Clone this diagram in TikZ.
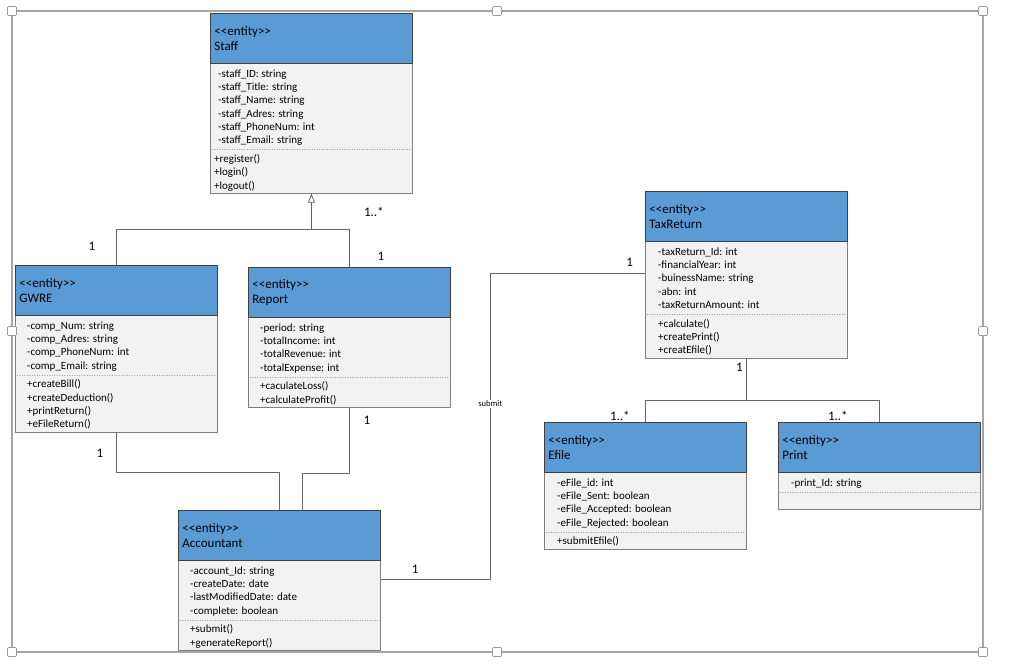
\documentclass[tikz,border=0pt]{standalone}
\usepackage{fontspec}
\setmainfont{Carlito}
\usepackage{xcolor}
\usepackage{tikz}
\usetikzlibrary{arrows.meta,calc,fit,backgrounds}
\definecolor{headblue}{HTML}{5B9BD5}
\definecolor{bodygray}{HTML}{F2F2F2}
\definecolor{linegray}{HTML}{666666}
\definecolor{framegray}{HTML}{A6A6A6}
\tikzset{
  >=Stealth,
  every picture/.style={line cap=round,line join=round},
  headbox/.style={draw=black!75, fill=headblue, line width=0.8pt, minimum height=50pt,
    text width=194pt, inner xsep=4pt, inner ysep=0pt, align=left, anchor=north west,
    font=\fontsize{13}{15.5}\selectfont},
  bodybox/.style={draw=black!50, fill=bodygray, line width=0.8pt, inner sep=0pt},
  membertext/.style={inner sep=0pt, align=left, anchor=north west, font=\fontsize{11}{13.3}\selectfont},
  sepline/.style={draw=black!45, dotted, line width=0.5pt},
  conn/.style={draw=linegray, line width=0.8pt},
  mult/.style={inner sep=0pt, font=\fontsize{13}{15}\selectfont},
  sublbl/.style={fill=white, inner sep=1pt, font=\fontsize{8.5}{10}\selectfont},
  handle/.style={draw=black!40, fill=white, line width=0.6pt, minimum size=9pt, inner sep=0pt, rounded corners=1pt},
}
% entity box: [attr indent][method indent]{name}{x}{y}{title}{attributes}{methods}
\NewDocumentCommand{\entitybox}{O{12} O{12} m m m m m m}{%
  \node[headbox] (#3h) at (#4,#5) {<\kern0pt<entity>\kern0pt>\\#6};
  \node[membertext] (#3a) at ($(#3h.south west)+(#1,4)$) {\strut#7\strut};
  \node[membertext] (#3m) at ($(#3a.south -| #3h.west)+(#2,5)$) {\strut#8\strut};
  \begin{scope}[on background layer]
    \node[bodybox, fit=(#3h.south west)(#3h.south east)(#3m.south)] (#3) {};
  \end{scope}
  \draw[sepline] ($(#3a.south -| #3h.west)+(2,1.5)$) -- ($(#3a.south -| #3h.east)+(-2,1.5)$);
}

\begin{document}
\begin{tikzpicture}[x=1pt, y=-1pt]
  \useasboundingbox (0,0) rectangle (1024,670);
  % selection frame
  \draw[framegray, line width=1.3pt] (12,11) rectangle (983,652);

  % classes
  \entitybox[8][4]{staff}{210}{13}{Staff}
    {-staff\_ID: string\\-staff\_Title: string\\-staff\_Name: string\\-staff\_Adres: string\\-staff\_PhoneNum: int\\-staff\_Email: string}
    {+register()\\+login()\\+logout()}
  \entitybox{gwre}{15}{265}{GWRE}
    {-comp\_Num: string\\-comp\_Adres: string\\-comp\_PhoneNum: int\\-comp\_Email: string}
    {+createBill()\\+createDeduction()\\+printReturn()\\+eFileReturn()}
  \entitybox{report}{248}{267}{Report}
    {-period: string\\-totalIncome: int\\-totalRevenue: int\\-totalExpense: int}
    {+caculateLoss()\\+calculateProfit()}
  \entitybox{acct}{178}{510}{Accountant}
    {-account\_Id: string\\-createDate: date\\-lastModifiedDate: date\\-complete: boolean}
    {+submit()\\+generateReport()}
  \entitybox[13][13]{tax}{645}{191}{TaxReturn}
    {-taxReturn\_Id: int\\-financialYear: int\\-buinessName: string\\-abn: int\\-taxReturnAmount: int}
    {+calculate()\\+createPrint()\\+creatEfile()}
  \entitybox[13][13]{efile}{544}{422}{Efile}
    {-eFile\_id: int\\-eFile\_Sent: boolean\\-eFile\_Accepted: boolean\\-eFile\_Rejected: boolean}
    {+submitEfile()}
  \entitybox[13][13]{print}{778}{422}{Print}
    {-print\_Id: string}
    {}

  % generalisation to Staff
  \coordinate (gen) at ($(staff.south)+(0,36)$);
  \draw[conn] (gwreh.north) |- (gen);
  \draw[conn] (reporth.north) |- (gen);
  \draw[conn, -{Triangle[open, length=9pt, width=7pt]}] (gen) -- (staff.south);

  % GWRE and Report to Accountant
  \coordinate (acctin) at ($(accth.north)+(23,0)$);
  \draw[conn] (gwre.south) -- ++(0,40) -| (accth.north);
  \draw[conn] (report.south) -- ++(0,66) -| (acctin);

  % Accountant submits TaxReturn
  \coordinate (acctout) at ($(acct.north east)+(0,19)$);
  \coordinate (taxin) at ($(tax.north west)+(0,32)$);
  \draw[conn] (acctout) -- ++(109,0) |- node[sublbl, pos=.287] (sublabel) {submit} (taxin);

  % TaxReturn to Efile and Print
  \coordinate (split) at ($(tax.south)+(0,42)$);
  \draw[conn] (tax.south) -- (split);
  \draw[conn] (split) -| (efileh.north);
  \draw[conn] (split) -| (printh.north);

  % multiplicities
  \node[mult] (m1) at ($(staff.south)+(62.5,18)$) {1..*};
  \node[mult] (m2) at ($(gwreh.north)+(-24.5,-19)$) {1};
  \node[mult] (m3) at ($(reporth.north)+(31.5,-11)$) {1};
  \node[mult] (m4) at ($(gwre.south)+(-16.5,21)$) {1};
  \node[mult] (m5) at ($(report.south)+(17.5,13)$) {1};
  \node[mult] (m6) at ($(acctout)+(34,-10)$) {1};
  \node[mult] (m7) at ($(taxin)+(-15,-11)$) {1};
  \node[mult] (m8) at ($(tax.south)+(-7,9)$) {1};
  \node[mult] (m9) at ($(efileh.north)+(-25.5,-6)$) {1..*};
  \node[mult] (m10) at ($(printh.north)+(-41.5,-6)$) {1..*};

  % frame handles
  \foreach \x/\y [count=\k] in {12/11, 497/11, 983/11, 12/331, 983/331, 12/652, 497/652, 983/652}
    \node[handle] (hd\k) at (\x,\y) {};
\end{tikzpicture}
\end{document}
